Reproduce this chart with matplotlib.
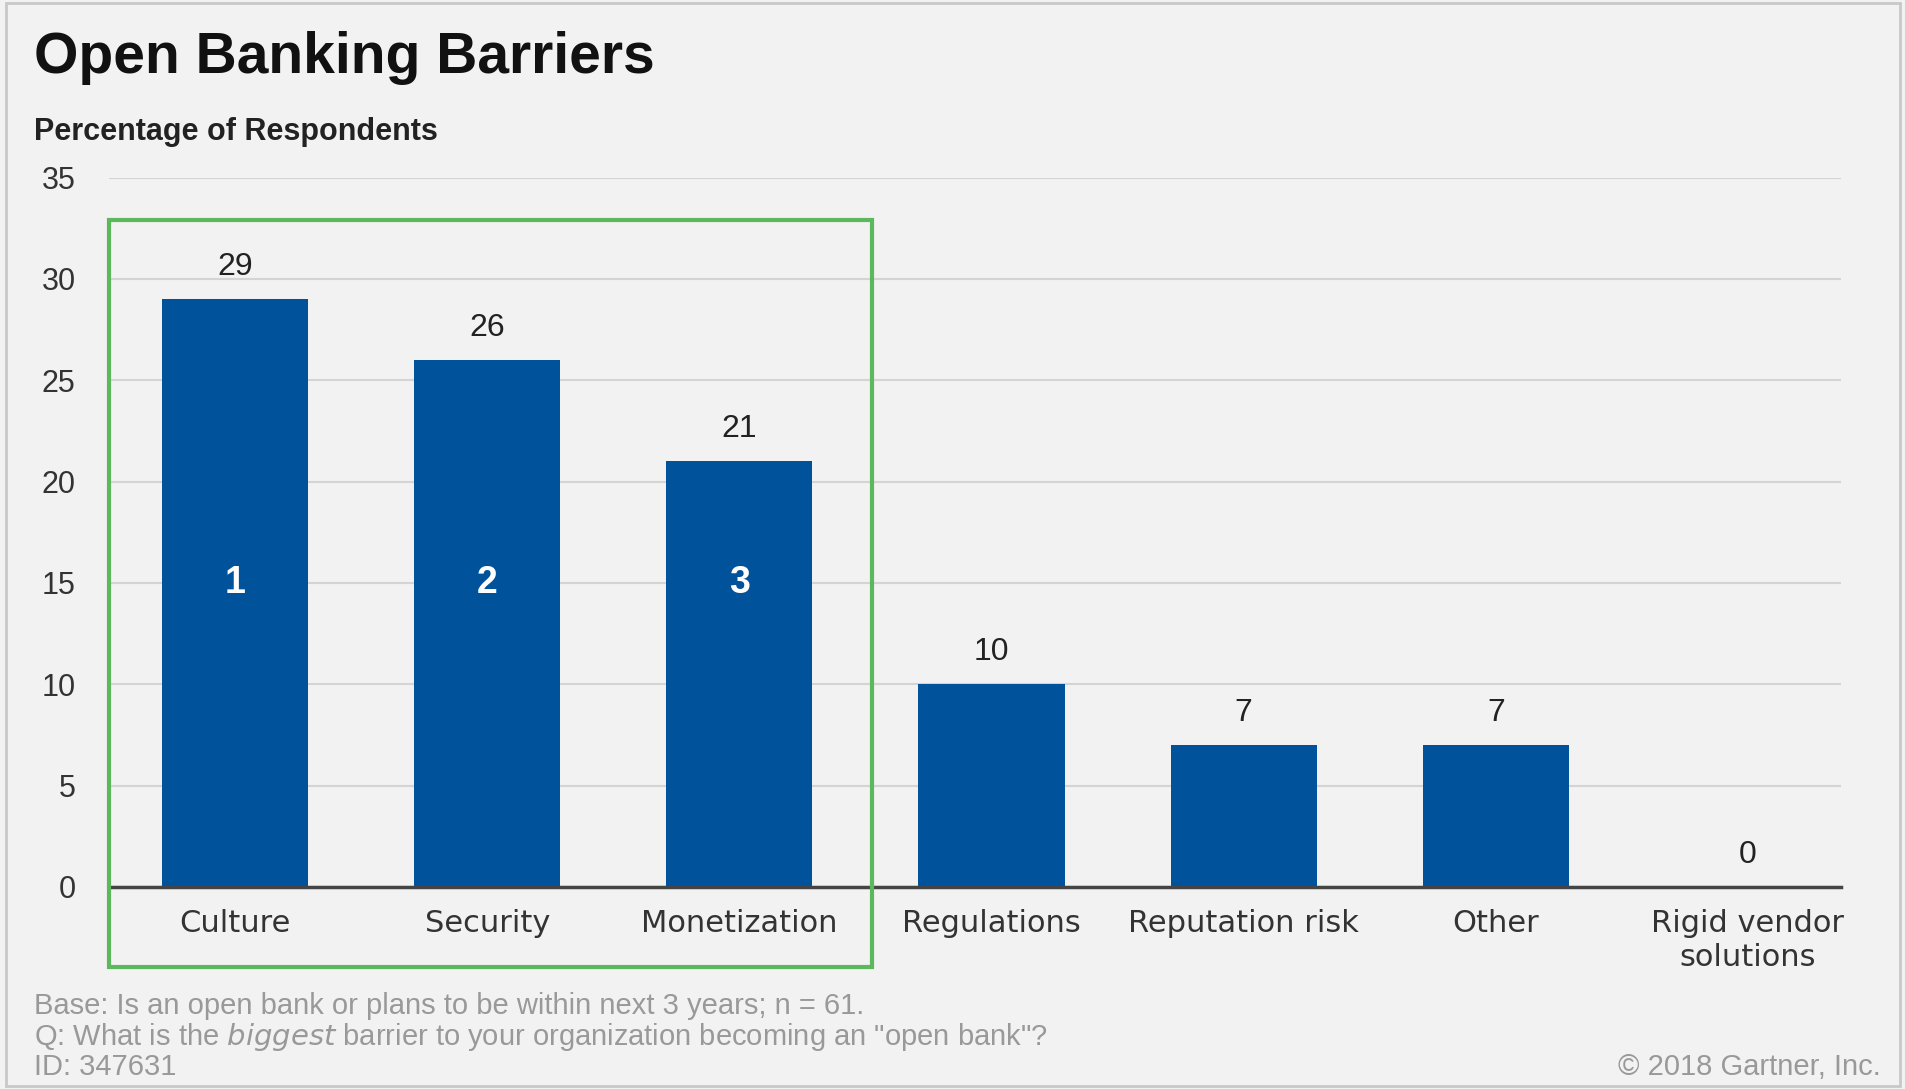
import matplotlib.pyplot as plt
from matplotlib.patches import Rectangle
import numpy as np

categories = ["Culture", "Security", "Monetization", "Regulations",
              "Reputation risk", "Other", "Rigid vendor\nsolutions"]
values = [29, 26, 21, 10, 7, 7, 0]
ranks = ["1", "2", "3"]
yticks = [0, 5, 10, 15, 20, 25, 30, 35]

bg = "#f2f2f2"
blue = "#00529b"

plt.rcParams['font.family'] = ['Liberation Sans', 'DejaVu Sans']

fig = plt.figure(figsize=(19.06, 10.89), dpi=100, facecolor=bg)
ax = fig.add_axes([0.0572, 0.1855, 0.9088, 0.6515], facecolor=bg)

x = np.arange(len(categories))
ax.bar(x, values, width=0.58, color=blue, zorder=3)

ax.set_xlim(-0.5, 6.37)
ax.set_ylim(0, 35)
ax.set_yticks(yticks)
ax.set_yticklabels([str(t) for t in yticks], fontsize=22, color="#333333")
ax.set_xticks([])
ax.grid(axis="y", color="#d4d4d4", linewidth=1.5, zorder=0)
for s in ["top", "right", "left"]:
    ax.spines[s].set_visible(False)
ax.spines["bottom"].set_color("#444444")
ax.spines["bottom"].set_linewidth(2.5)
ax.spines["bottom"].set_zorder(4)
ax.tick_params(axis="y", length=0, pad=24)

# value labels
for xi, v in zip(x, values):
    ax.annotate(str(v), (xi, v), xytext=(0, 23), textcoords="offset points",
                ha="center", va="center", fontsize=23, color="#222222")

# ranks inside the top three bars
for xi, r in zip(x[:3], ranks):
    ax.text(xi, 15, r, ha="center", va="center", fontsize=27,
            fontweight="bold", color="white", zorder=5)

# category labels
for xi, c in zip(x, categories):
    ax.annotate(c, (xi, 0), xytext=(0, -16), textcoords="offset points",
                ha="center", va="top", fontsize=22, color="#333333",
                family=['DejaVu Sans'], linespacing=1.2)

# green highlight box
box = Rectangle((-0.5, -3.96), 3.025, 36.86, fill=False, edgecolor="#5cb85c",
                linewidth=3, clip_on=False, zorder=6)
ax.add_patch(box)

fig.text(0.018, 0.947, "Open Banking Barriers", fontsize=41, fontweight="bold",
         color="#111111", va="center")
fig.text(0.018, 0.879, "Percentage of Respondents", fontsize=22,
         fontweight="bold", color="#222222", va="center")

foot_font = dict(fontsize=21, color="#999999", va="center")
fig.text(0.018, 0.076,
         "Base: Is an open bank or plans to be within next 3 years; n = 61.",
         **foot_font)
fig.text(0.018, 0.048,
         "Q: What is the $\\it{biggest}$ barrier to your organization becoming an \"open bank\"?",
         **foot_font)
fig.text(0.018, 0.020, "ID: 347631", **foot_font)
fig.text(0.987, 0.020, "\u00a9 2018 Gartner, Inc.", ha="right", **foot_font)

fig.add_artist(Rectangle((0.003, 0.003), 0.994, 0.994, transform=fig.transFigure,
                         fill=False, edgecolor="#c8c8c8", linewidth=2))

fig.savefig("out.png", dpi=100, facecolor=bg)
